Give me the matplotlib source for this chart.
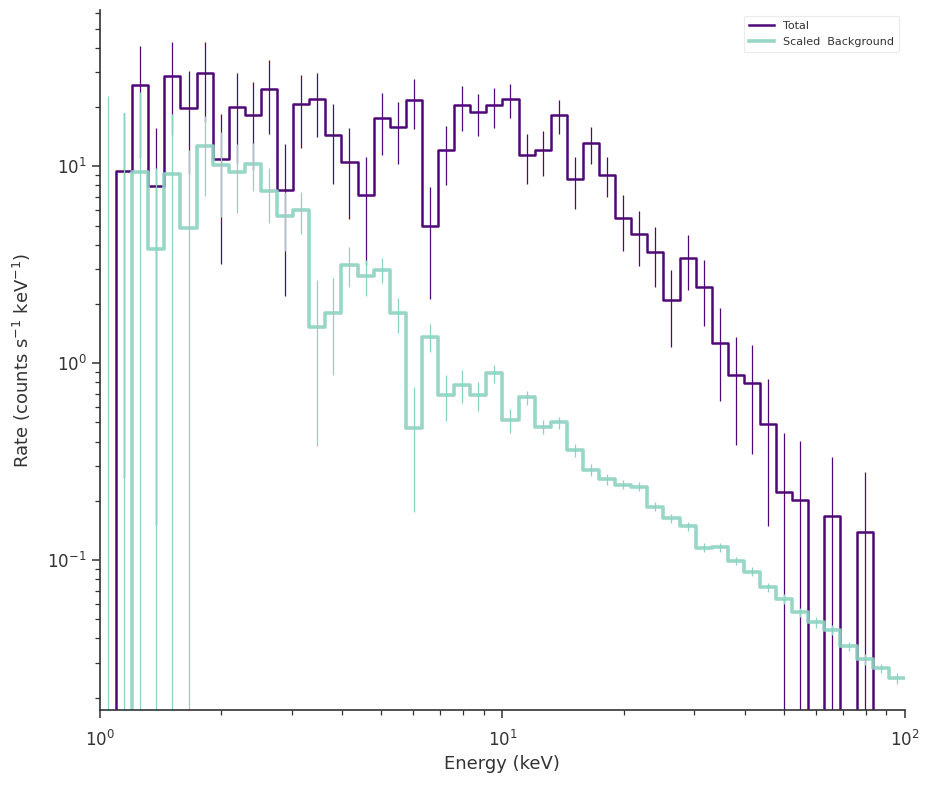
import numpy as np
import matplotlib.pyplot as plt

# Energy bins: 50 log-spaced channels between 1 and 100 keV
edges = np.logspace(0, 2, 51)
centers = np.sqrt(edges[:-1] * edges[1:])

# Total rate (counts / s / keV) and its 1-sigma errors, per channel
total_rate = [0.0, 9.46, 25.8, 7.9, 28.6, 19.8, 29.8, 10.85, 20.0, 18.2,
              24.7, 7.55, 20.7, 22.0, 14.4, 10.5, 7.15, 17.5, 15.8, 21.7,
              4.96, 12.05, 20.4, 18.8, 20.4, 21.9, 11.4, 12.05, 18.2, 8.6,
              13.1, 9.08, 5.45, 4.53, 3.67, 2.10, 3.43, 2.44, 1.27, 0.873,
              0.794, 0.489, 0.222, 0.203, 0.0, 0.168, 0.0, 0.139, 0.0, 0.0]
total_err = [0.0, 9.2, 14.8, 7.75, 14.2, 10.7, 13.0, 7.65, 9.6, 8.6,
             10.1, 5.35, 8.3, 7.9, 6.3, 5.1, 4.0, 6.1, 5.5, 6.2,
             2.85, 4.05, 5.3, 4.6, 4.7, 4.4, 3.25, 3.1, 3.6, 2.5,
             2.8, 2.1, 1.73, 1.4, 1.22, 0.89, 1.07, 0.9, 0.63, 0.49,
             0.45, 0.34, 0.22, 0.2, 0.0, 0.165, 0.0, 0.14, 0.0, 0.0]

# Scaled background rate and errors
bkg_rate = [0.0, 0.0, 9.3, 3.82, 9.1, 4.83, 12.6, 10.2, 9.4, 10.3,
            7.46, 5.57, 5.98, 1.52, 1.79, 3.17, 2.77, 2.99, 1.79, 0.466,
            1.36, 0.688, 0.773, 0.688, 0.887, 0.514, 0.67, 0.475, 0.5, 0.362,
            0.286, 0.257, 0.242, 0.236, 0.187, 0.163, 0.149, 0.1155, 0.116, 0.099,
            0.0873, 0.0727, 0.0634, 0.0544, 0.0483, 0.0442, 0.0366, 0.0314, 0.0282, 0.0251]
bkg_err = [22.7, 18.6, 14.5, 6.0, 9.3, 7.2, 5.5, 4.7, 3.6, 2.8,
           2.3, 1.85, 1.44, 1.14, 0.92, 0.72, 0.57, 0.44, 0.36, 0.29,
           0.22, 0.18, 0.145, 0.115, 0.095, 0.072, 0.055, 0.04, 0.035, 0.027,
           0.02, 0.016, 0.013, 0.012, 0.01, 0.009, 0.008, 0.006, 0.006, 0.005,
           0.0045, 0.004, 0.0035, 0.003, 0.003, 0.0025, 0.002, 0.002, 0.0015, 0.0015]

total_color = '#4e0877'
bkg_color = '#8dd3c1'

plt.rcParams['font.family'] = 'DejaVu Sans'
plt.rcParams['axes.edgecolor'] = '#333333'
plt.rcParams['xtick.color'] = '#333333'
plt.rcParams['ytick.color'] = '#333333'
plt.rcParams['text.color'] = '#333333'
plt.rcParams['axes.labelcolor'] = '#333333'

fig = plt.figure(figsize=(9.3, 7.86), dpi=100)
ax = fig.add_axes([0.1075, 0.0967, 0.8655, 0.8903])
ax.set_xscale('log')
ax.set_yscale('log')

# Total: step outline + error bars
ax.step(edges, np.append(total_rate, total_rate[-1]), where='post',
        color=total_color, lw=1.8, label='Total')
ax.errorbar(centers, total_rate, yerr=total_err, fmt='none',
            ecolor=total_color, elinewidth=0.9, capsize=0)

# Scaled background: step outline + error bars
ax.step(edges, np.append(bkg_rate, bkg_rate[-1]), where='post',
        color=bkg_color, lw=2.6, alpha=0.9, label='Scaled  Background')
ax.errorbar(centers, bkg_rate, yerr=bkg_err, fmt='none',
            ecolor=bkg_color, elinewidth=0.9, capsize=0)

ax.set_xlim(1, 100)
ax.set_ylim(0.01733, 62)

ax.set_xlabel('Energy (keV)', fontsize=13)
ax.set_ylabel(r'Rate (counts s$^{-1}$ keV$^{-1}$)', fontsize=13, labelpad=10)

ax.tick_params(which='major', direction='out', length=6, width=1.1, labelsize=12)
ax.tick_params(which='minor', direction='out', length=3.5, width=0.9)
ax.tick_params(axis='x', which='major', pad=8)

for side in ['top', 'right']:
    ax.spines[side].set_visible(False)
ax.spines['left'].set_linewidth(1.2)
ax.spines['bottom'].set_linewidth(1.2)

leg = ax.legend(loc='upper right', fontsize=8, frameon=True, fancybox=True,
                handlelength=2.2, borderpad=0.5)
leg.get_frame().set_edgecolor('#e6e6e6')
leg.get_frame().set_linewidth(0.8)

fig.savefig('out.png', dpi=100)
